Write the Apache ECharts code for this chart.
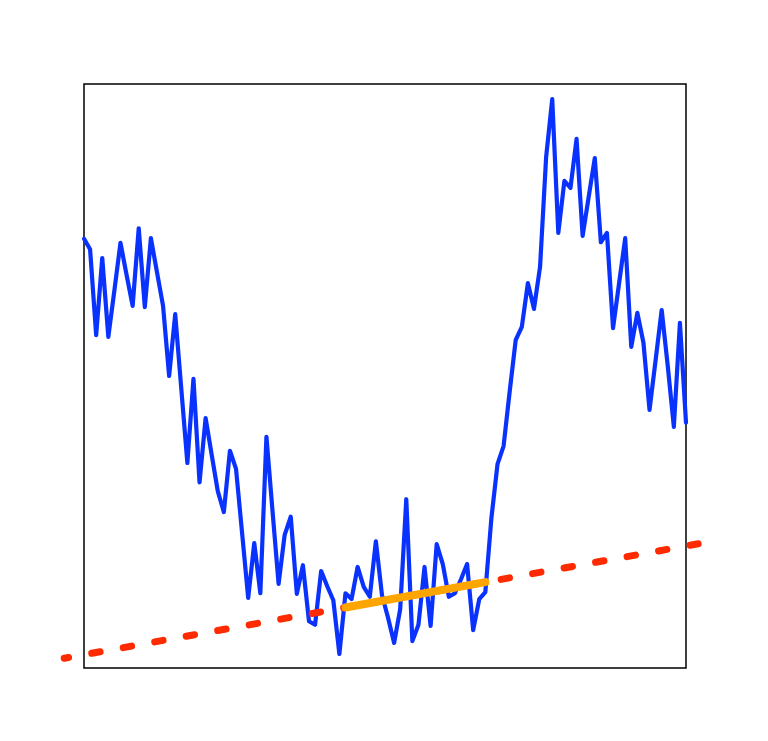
<!DOCTYPE html>
<html>
<head>
<meta charset="utf-8">
<script src="https://cdn.jsdelivr.net/npm/echarts@6/dist/echarts.min.js"></script>
<style>
html,body{margin:0;padding:0;background:#fff;}
#chart{width:768px;height:741px;}
</style>
</head>
<body>
<div id="chart"></div>
<script>
// Blue series: 100 observations (index 0..99)
var seriesValues = [
  73.5, 71.7, 57.0, 70.2, 56.7, 64.7, 72.8, 67.3, 62.0, 75.3,
  61.8, 73.6, 67.8, 62.0, 50.0, 60.6, 47.8, 35.1, 49.5, 31.8,
  42.8, 36.5, 30.3, 26.7, 37.2, 34.1, 23.1, 12.0, 21.4, 12.8,
  39.6, 26.9, 14.4, 22.8, 25.9, 12.7, 17.6, 8.0, 7.4, 16.6,
  14.0, 11.6, 2.4, 12.8, 11.8, 17.3, 13.9, 12.2, 21.7, 12.5,
  8.6, 4.3, 10.1, 28.9, 4.6, 7.4, 17.3, 7.2, 21.2, 17.8,
  12.2, 12.8, 15.2, 17.8, 6.5, 11.8, 13.0, 25.7, 34.9, 38.0,
  47.3, 56.2, 58.4, 65.9, 61.5, 68.7, 87.5, 97.4, 74.5, 83.4,
  82.2, 90.6, 74.0, 80.7, 87.3, 72.9, 74.5, 58.2, 65.9, 73.6,
  55.0, 60.8, 55.7, 44.2, 52.7, 61.3, 51.7, 41.3, 59.1, 42.0
];
// Red dashed trend line endpoints (extends beyond the plot box)
var trendX = [-3.26, 101.0];
var trendY = [1.67, 21.27];
// Orange highlighted segment endpoints
var segX = [43, 66];
var segY = [10.37, 14.7];

var blueData = seriesValues.map(function(v, i){ return [i, v]; });
var trendData = trendX.map(function(x, i){ return [x, trendY[i]]; });
var segData = segX.map(function(x, i){ return [x, segY[i]]; });

// plot box geometry
var boxLeft = 84, boxTop = 84, boxW = 602, boxH = 584;
var xMin = 0, xMax = 99;
var unit = boxW / (xMax - xMin);
var extMin = -4, extMax = 103; // wider axis for the trend line (not clipped by the box)

var hiddenAxis = {
  axisLine: {show: false}, axisTick: {show: false},
  axisLabel: {show: false}, splitLine: {show: false}
};

var chart = echarts.init(document.getElementById('chart'));
chart.setOption({
  animation: false,
  backgroundColor: '#ffffff',
  grid: [
    {
      left: boxLeft, top: boxTop, width: boxW, height: boxH,
      show: true, borderColor: '#000000', borderWidth: 1.5,
      backgroundColor: 'transparent'
    },
    {
      left: boxLeft + (extMin - xMin) * unit, top: boxTop,
      width: (extMax - extMin) * unit, height: boxH, show: false
    }
  ],
  xAxis: [
    Object.assign({type: 'value', min: xMin, max: xMax, gridIndex: 0}, hiddenAxis),
    Object.assign({type: 'value', min: extMin, max: extMax, gridIndex: 1}, hiddenAxis)
  ],
  yAxis: [
    Object.assign({type: 'value', min: 0, max: 100, gridIndex: 0}, hiddenAxis),
    Object.assign({type: 'value', min: 0, max: 100, gridIndex: 1}, hiddenAxis)
  ],
  series: [
    {
      type: 'line', data: blueData, symbol: 'none', z: 2,
      xAxisIndex: 0, yAxisIndex: 0,
      lineStyle: {color: '#0a32ff', width: 4.2, join: 'round', cap: 'round'}
    },
    {
      type: 'line', data: trendData, symbol: 'none', z: 3,
      xAxisIndex: 1, yAxisIndex: 1,
      lineStyle: {color: '#ff2a00', width: 7, type: [8.5, 23.5], cap: 'round', dashOffset: 4}
    },
    {
      type: 'line', data: segData, symbol: 'none', z: 4,
      xAxisIndex: 0, yAxisIndex: 0,
      lineStyle: {color: '#ffa500', width: 8, cap: 'round'}
    }
  ]
});
</script>
</body>
</html>
